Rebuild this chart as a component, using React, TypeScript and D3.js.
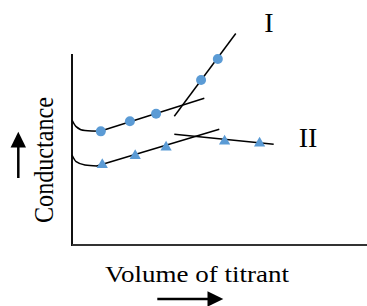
import React from "react";
import * as d3 from "d3";

// Series I (circles)
const circleX = [0.98, 1.97, 2.86, 4.39, 4.96];
const circleY = [5.95, 6.48, 6.87, 8.64, 9.74];
// Series II (triangles)
const triX = [1.03, 2.15, 3.2, 5.19, 6.38];
const triY = [4.2, 4.67, 5.12, 5.43, 5.33];

// Fitted lines [x0, y0, x1, y1]
const lineI_a = [0.98, 5.97, 4.5, 7.68];
const lineI_b = [3.48, 6.74, 5.57, 11.07];
const lineII_a = [0.84, 4.14, 5.01, 6.06];
const lineII_b = [3.48, 5.8, 6.86, 5.28];

// Initial curved portions
const curveIX = [0, 0.14, 0.44, 0.98];
const curveIY = [6.54, 6.2, 5.99, 5.95];
const curveIIX = [0, 0.14, 0.44, 0.85];
const curveIIY = [4.71, 4.36, 4.19, 4.14];

const xLabel = "Volume of titrant";
const yLabel = "Conductance";
const seriesLabels = ["I", "II"];

const W = 367;
const H = 306;
const left = 72;
const right = 366;
const top = 54;
const bottom = 245;

export default function App() {
  const x = d3.scaleLinear().domain([0, 10]).range([left, right]);
  const y = d3.scaleLinear().domain([0, 10]).range([bottom, top]);

  const curveGen = d3
    .line<[number, number]>()
    .x((d) => x(d[0]))
    .y((d) => y(d[1]))
    .curve(d3.curveMonotoneX);
  const segGen = d3
    .line<[number, number]>()
    .x((d) => x(d[0]))
    .y((d) => y(d[1]));

  const seg = (s: number[]) =>
    segGen([
      [s[0], s[1]],
      [s[2], s[3]],
    ]) as string;

  const curveI = curveGen(curveIX.map((v, i) => [v, curveIY[i]] as [number, number])) as string;
  const curveII = curveGen(curveIIX.map((v, i) => [v, curveIIY[i]] as [number, number])) as string;

  const tri = d3.symbol().type(d3.symbolTriangle).size(55)() as string;
  const blue = "#5B9BD5";
  const font = "'Liberation Serif', 'Times New Roman', serif";

  return (
    <svg
      width={W}
      height={H}
      style={{ position: "absolute", left: 0, top: 0, background: "#fff" }}
    >
      {/* axes */}
      <line x1={left} y1={top} x2={left} y2={bottom + 1} stroke="#111" strokeWidth={2} />
      <line x1={left} y1={bottom} x2={W} y2={bottom} stroke="#333" strokeWidth={2} />

      {/* curves and lines */}
      <g fill="none" stroke="#000" strokeWidth={1.5}>
        <path d={curveI} />
        <path d={curveII} />
        <path d={seg(lineI_a)} />
        <path d={seg(lineI_b)} />
        <path d={seg(lineII_a)} />
        <path d={seg(lineII_b)} />
      </g>

      {/* markers */}
      {circleX.map((v, i) => (
        <circle key={"c" + i} cx={x(v)} cy={y(circleY[i])} r={5} fill={blue} />
      ))}
      {triX.map((v, i) => (
        <path key={"t" + i} d={tri} transform={`translate(${x(v)},${y(triY[i])})`} fill={blue} />
      ))}

      {/* series labels */}
      <text x={269} y={32} fontFamily={font} fontSize={28} textAnchor="middle" fill="#000">
        {seriesLabels[0]}
      </text>
      <text x={308} y={146.5} fontFamily={font} fontSize={28} textAnchor="middle" fill="#000">
        {seriesLabels[1]}
      </text>

      {/* axis titles */}
      <text
        x={105}
        y={281.5}
        fontFamily={font}
        fontSize={23}
        textLength={184}
        lengthAdjust="spacingAndGlyphs"
        fill="#000"
      >
        {xLabel}
      </text>
      <text
        transform="translate(53,160) rotate(-90)"
        fontFamily={font}
        fontSize={28}
        textAnchor="middle"
        textLength={126}
        lengthAdjust="spacingAndGlyphs"
        fill="#000"
      >
        {yLabel}
      </text>

      {/* arrows */}
      <line x1={18.3} y1={178} x2={18.3} y2={146} stroke="#000" strokeWidth={2.5} />
      <path d="M18.3,131.7 L26,147.5 L10.6,147.5 Z" fill="#000" />
      <line x1={157.3} y1={299} x2={209} y2={299} stroke="#000" strokeWidth={2.5} />
      <path d="M223.3,299 L207.5,291.3 L207.5,306.7 Z" fill="#000" />
    </svg>
  );
}
